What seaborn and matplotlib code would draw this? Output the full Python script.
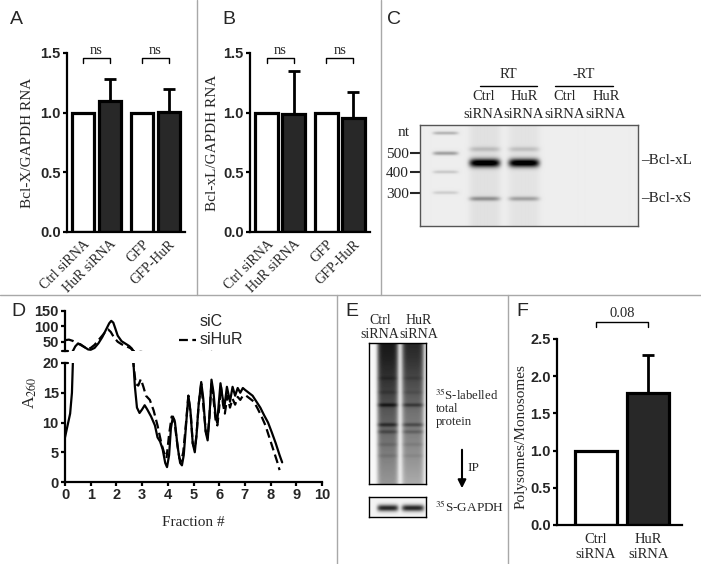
import numpy as np
import pandas as pd
import matplotlib
matplotlib.use('Agg')
import matplotlib.pyplot as plt
import seaborn as sns
from matplotlib.lines import Line2D
from matplotlib.patches import FancyArrowPatch
from matplotlib.ticker import FormatStrFormatter

sns.set_theme(style='ticks')
plt.rcParams['font.family'] = ['Liberation Sans', 'DejaVu Sans']
plt.rcParams['mathtext.fontset'] = 'stix'
SERIF = 'Liberation Serif'
DARK = '#282828'

# ---- data -------------------------------------------------------------
# panels A / B
ab_labels = ['Ctrl siRNA', 'HuR siRNA', 'GFP', 'GFP-HuR']
ab_group = ['siRNA', 'siRNA', 'GFP', 'GFP']
ab_cond = ['ctrl', 'treat', 'ctrl', 'treat']
a_vals = [1.0, 1.10, 1.0, 1.005]
a_err = [0, 0.18, 0, 0.19]
b_vals = [1.0, 0.99, 1.0, 0.955]
b_err = [0, 0.36, 0, 0.22]

# panel C gel (lanes: ladder, Ctrl RT, HuR RT, Ctrl -RT, HuR -RT)
c_lane_x = [0.117, 0.296, 0.475, 0.656, 0.84]
c_lane_w = [0.115, 0.14, 0.14, 0.14, 0.14]
c_band_lane = [0, 0, 0, 0, 1, 1, 1, 2, 2, 2]
c_band_pos = [0.08, 0.28, 0.465, 0.67, 0.24, 0.376, 0.73, 0.24, 0.376, 0.73]
c_band_int = [0.22, 0.3, 0.14, 0.12, 0.15, 1.0, 0.32, 0.14, 1.0, 0.26]
c_band_sd = [0.012, 0.014, 0.012, 0.012, 0.018, 0.03, 0.016, 0.018, 0.03, 0.016]
c_smear = [0.0, 0.05, 0.04, 0.0, 0.0]
c_marker_nt = ['500', '400', '300']
c_marker_pos = [0.28, 0.465, 0.67]

# panel D polysome profiles
siC_x = [0, 0.1, 0.2, 0.27, 0.32, 0.4, 0.5, 0.6, 0.75, 0.9, 1.0, 1.15, 1.3, 1.45,
         1.6, 1.72, 1.8, 1.88, 1.95, 2.05, 2.2, 2.35, 2.5, 2.6, 2.65, 2.72, 2.8,
         2.9, 3.0, 3.1, 3.2, 3.35, 3.5, 3.6, 3.7, 3.8, 3.9, 3.97, 4.05, 4.12, 4.2,
         4.28, 4.38, 4.48, 4.55, 4.62, 4.7, 4.8, 4.88, 4.97, 5.05, 5.12, 5.2, 5.3,
         5.38, 5.47, 5.55, 5.62, 5.7, 5.78, 5.86, 5.92, 5.98, 6.05, 6.12, 6.2, 6.3,
         6.42, 6.52, 6.62, 6.72, 6.82, 6.92, 7.0, 7.15, 7.3, 7.45, 7.6, 7.75, 7.9,
         8.05, 8.2, 8.35, 8.45]
siC_y = [7.5, 9.5, 11.5, 15, 22, 35, 44, 42, 33, 25, 24, 30, 45, 65,
         90, 110, 118, 112, 95, 70, 52, 44, 36, 28, 21, 16, 12.5,
         11.6, 12.2, 12.9, 12.2, 11, 9.5, 7.5, 6.8, 5.5, 3.2, 2.5, 4.5, 9, 11,
         10, 6, 3.2, 2.8, 4.5, 9, 14.5, 12, 6.5, 5, 8, 13, 16.8,
         14, 8.5, 7, 11, 17.2, 15, 11, 10, 13, 16.6, 14.5, 12.5, 16,
         13.5, 16, 14.5, 15.8, 15, 15.8, 15.5, 15, 14.5, 13.5, 12.5, 11.2, 10,
         8.3, 6.5, 4.5, 3.3]
siHuR_x = [0, 0.15, 0.3, 0.45, 0.6, 0.75, 0.88, 1.0, 1.15, 1.3, 1.45, 1.6, 1.68,
           1.78, 1.9, 2.05, 2.2, 2.4, 2.55, 2.66, 2.75, 2.85, 2.95, 3.05, 3.15,
           3.3, 3.45, 3.6, 3.75, 3.85, 3.95, 4.05, 4.15, 4.25, 4.35, 4.45, 4.52,
           4.6, 4.7, 4.8, 4.9, 4.97, 5.05, 5.12, 5.2, 5.3, 5.4, 5.48, 5.55, 5.62,
           5.7, 5.8, 5.87, 5.93, 6.0, 6.07, 6.15, 6.22, 6.32, 6.42, 6.52, 6.62,
           6.72, 6.82, 6.92, 7.05, 7.2, 7.35, 7.5, 7.65, 7.8, 7.95, 8.1, 8.25, 8.35]
siHuR_y = [55, 57, 53, 46, 40, 33, 27, 30, 40, 55, 70, 85, 90,
           82, 65, 50, 42, 35, 29, 20, 16.5, 16.2, 17.3, 16, 14.5,
           13.8, 12, 9.5, 6.5, 5, 4, 8, 11, 10.5, 7, 4, 3.5,
           5, 9.5, 14.5, 11, 6.5, 5.5, 8, 13, 16.5, 12, 8.5, 7.5, 11,
           16.8, 13, 10, 9.5, 12.5, 16, 13, 11.5, 14.5, 12.5, 14, 13,
           14.3, 13.8, 14.5, 14.5, 14, 13.5, 12.3, 11, 9.5, 7.5, 5.5, 3.5, 2]

# panel E gels
e_lane_x = [0.33, 0.77]
e_lane_w = [0.37, 0.39]
e_smear_pos = [0.0, 0.1, 0.3, 0.5, 0.7, 0.85, 1.0]
e_smear_ctrl = [0.88, 0.85, 0.75, 0.62, 0.52, 0.45, 0.38]
e_smear_hur = [0.82, 0.78, 0.66, 0.52, 0.44, 0.38, 0.3]
e_band_pos = [0.25, 0.35, 0.44, 0.58, 0.63, 0.72, 0.8]
e_band_int = [0.05, 0.05, 0.22, 0.22, 0.14, 0.06, 0.05]
e_ip_pos = [0.55]
e_ip_int = [0.8]

# panel F
f_labels = ['Ctrl\nsiRNA', 'HuR\nsiRNA']
f_vals = [1.0, 1.78]
f_err = [0, 0.5]

# ---- figure -------------------------------------------------------------
W, H = 701, 564
fig = plt.figure(figsize=(W / 100, H / 100), dpi=100)


def box(l, t, r, b):
    return fig.add_axes([l / W, 1 - b / H, (r - l) / W, (b - t) / H])


def ftext(x, y, s, **kw):
    kw.setdefault('ha', 'center')
    kw.setdefault('va', 'center')
    fig.text(x / W, 1 - y / H, s, **kw)


def style_axis(ax):
    sns.despine(ax=ax)
    for s in ['left', 'bottom']:
        ax.spines[s].set_linewidth(1.6)
        ax.spines[s].set_color('black')
    ax.tick_params(axis='y', direction='out', length=3, width=1.6, pad=1.5,
                   color='black')
    for t in ax.get_yticklabels():
        t.set_fontweight('bold')
        t.set_fontsize(10.5)


def bar_panel(ax, vals, errs, ylabel, lab_x):
    df = pd.DataFrame({'group': ab_group, 'cond': ab_cond, 'val': vals})
    sns.barplot(data=df, x='group', y='val', hue='cond', palette=['white', DARK],
                width=0.9, gap=0.17, edgecolor='black', linewidth=2.3,
                errorbar=None, legend=False, ax=ax)
    bars = sorted(ax.patches, key=lambda p: p.get_x())
    xc = [p.get_x() + p.get_width() / 2 for p in bars]
    for x, v, e in zip(xc, vals, errs):
        if e > 0:
            ax.errorbar(x, v, yerr=[[0], [e]], fmt='none', ecolor='black',
                        elinewidth=2, capsize=4, capthick=2)
    ax.set_ylim(0, 1.5)
    ax.set_yticks([0, 0.5, 1.0, 1.5])
    ax.yaxis.set_major_formatter(FormatStrFormatter('%.1f'))
    ax.set_xticks(xc)
    ax.set_xticklabels(ab_labels, rotation=45, ha='right', rotation_mode='anchor',
                       fontfamily=SERIF, fontsize=10)
    ax.tick_params(axis='x', length=0, pad=4)
    ax.set_xlabel('')
    ax.set_ylabel('')
    style_axis(ax)
    for i in (0, 2):
        x0, x1 = xc[i], xc[i + 1]
        ax.plot([x0, x0, x1, x1], [1.42, 1.46, 1.46, 1.42], color='black', lw=1,
                clip_on=False)
        ax.text((x0 + x1) / 2, 1.47, 'ns', ha='center', va='bottom',
                fontfamily=SERIF, fontsize=10.5)
    ftext(lab_x, 143, ylabel, rotation=90, fontfamily=SERIF, fontsize=11)


def gel(nx, ny, lane_x, lane_w, bands, smear_fn, bg):
    xs = (np.arange(nx) + 0.5) / nx
    ys = (np.arange(ny) + 0.5) / ny
    dark = np.zeros((ny, nx))
    for li, (cx, w) in enumerate(zip(lane_x, lane_w)):
        lane = np.exp(-np.abs((xs - cx) / (w / 2)) ** 6)
        prof = smear_fn(li, ys)
        for lane_i, pos, inten, sd in bands:
            if lane_i == li:
                prof = prof + inten * np.exp(-0.5 * ((ys - pos) / sd) ** 2)
        dark += np.outer(prof, lane)
    return np.clip(bg - dark, 0, 1)


# panel A and B
ax_a = box(67, 53, 185, 232)
bar_panel(ax_a, a_vals, a_err, 'Bcl-X/GAPDH RNA', 28)
ax_b = box(250, 53, 370, 232)
bar_panel(ax_b, b_vals, b_err, 'Bcl-xL/GAPDH RNA', 212)

# panel C
ax_c = box(420, 125, 638, 226)
c_bands = list(zip(c_band_lane, c_band_pos, c_band_int, c_band_sd))
img_c = gel(218, 101, c_lane_x, c_lane_w, c_bands,
            lambda li, ys: np.full_like(ys, c_smear[li]), 0.93)
ax_c.imshow(img_c, cmap='gray', vmin=0, vmax=1, extent=(0, 1, 1, 0), aspect='auto',
            interpolation='bilinear')
ax_c.set_xticks([])
ax_c.set_yticks(c_marker_pos)
ax_c.set_yticklabels(c_marker_nt, fontfamily=SERIF, fontsize=11)
ax_c.tick_params(axis='y', direction='out', length=7, width=1.5, pad=1)
for s in ax_c.spines.values():
    s.set_color('#555555')
    s.set_linewidth(1)
ftext(404, 133, 'nt', fontfamily=SERIF, fontsize=11)
ftext(641, 161, '\u2013Bcl-xL', ha='left', fontfamily=SERIF, fontsize=11)
ftext(641, 198, '\u2013Bcl-xS', ha='left', fontfamily=SERIF, fontsize=11)
ftext(508, 75, 'RT', fontfamily=SERIF, fontsize=10.5)
ftext(584, 75, '-RT', fontfamily=SERIF, fontsize=10.5)
fig.add_artist(Line2D([480 / W, 537 / W], [1 - 86 / H] * 2, color='black', lw=1))
fig.add_artist(Line2D([555 / W, 613 / W], [1 - 86 / H] * 2, color='black', lw=1))
for cx, top in zip([484, 524, 565, 606], ['Ctrl', 'HuR', 'Ctrl', 'HuR']):
    ftext(cx, 97, top, fontfamily=SERIF, fontsize=10.5)
    ftext(cx, 114, 'siRNA', fontfamily=SERIF, fontsize=10.5)

# panel D (broken y axis)
ax_up = box(65, 311, 322, 351)
ax_lo = box(65, 363, 322, 482)
for ax in (ax_up, ax_lo):
    sns.lineplot(x=siC_x, y=siC_y, sort=False, estimator=None, color='black',
                 lw=1.6, ax=ax)
    sns.lineplot(x=siHuR_x, y=siHuR_y, sort=False, estimator=None, color='black',
                 lw=1.6, linestyle=(0, (4, 2)), ax=ax)
    ax.set_xlim(0, 10)
ax_up.set_ylim(20, 150)
ax_up.set_yticks([50, 100, 150])
ax_up.set_xticks([])
style_axis(ax_up)
ax_up.spines['bottom'].set_visible(False)
ax_up.plot([-0.012, 0.012], [0, 0], transform=ax_up.transAxes, color='black',
           lw=1.6, clip_on=False)
ax_lo.set_ylim(0, 20)
ax_lo.set_yticks([0, 5, 10, 15, 20])
ax_lo.set_xticks(range(0, 11))
style_axis(ax_lo)
ax_lo.plot([0, 0.012], [1, 1], transform=ax_lo.transAxes, color='black',
           lw=1.6, clip_on=False)
ax_lo.tick_params(axis='x', direction='out', length=3, width=1.6, pad=1.5,
                  color='black')
for t in ax_lo.get_xticklabels():
    t.set_fontweight('bold')
    t.set_fontsize(10.5)
ax_lo.set_xlabel('Fraction #', fontfamily=SERIF, fontsize=11, labelpad=10)
ftext(30, 393, r'A$_{260}$', rotation=90, fontfamily=SERIF, fontsize=12.5)
ftext(200, 321, 'siC', ha='left', fontsize=11.5)
ftext(200, 340, 'siHuR', ha='left', fontsize=11.5)
fig.add_artist(Line2D([179 / W, 196 / W], [1 - 340 / H] * 2, color='black', lw=1.6,
                      linestyle=(0, (4, 2))))

# panel E
ax_e = box(369, 343, 426, 484)
e_bands = [(li, p, i * (0.85 if li else 1.0), 0.01)
           for li in (0, 1) for p, i in zip(e_band_pos, e_band_int)]
smears = [e_smear_ctrl, e_smear_hur]
img_e = gel(57, 141, e_lane_x, e_lane_w, e_bands,
            lambda li, ys: np.interp(ys, e_smear_pos, smears[li]), 0.97)
ax_e.imshow(img_e, cmap='gray', vmin=0, vmax=1, extent=(0, 1, 1, 0), aspect='auto',
            interpolation='bilinear')
ax_e2 = box(369, 497, 426, 517)
ip_bands = [(li, p, i, 0.12) for li in (0, 1) for p, i in zip(e_ip_pos, e_ip_int)]
img_ip = gel(57, 20, e_lane_x, e_lane_w, ip_bands,
             lambda li, ys: np.zeros_like(ys), 0.95)
ax_e2.imshow(img_ip, cmap='gray', vmin=0, vmax=1, extent=(0, 1, 1, 0), aspect='auto',
             interpolation='bilinear')
for ax in (ax_e, ax_e2):
    ax.set_xticks([])
    ax.set_yticks([])
    for s in ax.spines.values():
        s.set_color('black')
        s.set_linewidth(1)
for cx, top in zip([380, 419], ['Ctrl', 'HuR']):
    ftext(cx, 320, top, fontfamily=SERIF, fontsize=10)
    ftext(cx, 335, 'siRNA', fontfamily=SERIF, fontsize=10)
ftext(435, 395, r'$^{35}$S-labelled', ha='left', fontfamily=SERIF, fontsize=9.2)
ftext(436, 409, 'total', ha='left', fontfamily=SERIF, fontsize=9.2)
ftext(436, 422, 'protein', ha='left', fontfamily=SERIF, fontsize=9.2)
ftext(467, 468, 'IP', ha='left', fontfamily=SERIF, fontsize=9.5)
ftext(435, 507, r'$^{35}$S-GAPDH', ha='left', fontfamily=SERIF, fontsize=9.5)
fig.add_artist(FancyArrowPatch((462 / W, 1 - 447 / H), (462 / W, 1 - 491 / H),
                               transform=fig.transFigure, arrowstyle='-|>',
                               mutation_scale=12, lw=1.5, color='black'))

# panel F
ax_f = box(557, 339, 682, 525)
sns.barplot(x=f_labels, y=f_vals, hue=f_labels, palette=['white', DARK], width=0.8,
            edgecolor='black', linewidth=2.3, legend=False, ax=ax_f)
fbars = sorted(ax_f.patches, key=lambda p: p.get_x())
fx = [p.get_x() + p.get_width() / 2 for p in fbars]
for x, v, e in zip(fx, f_vals, f_err):
    if e > 0:
        ax_f.errorbar(x, v, yerr=[[0], [e]], fmt='none', ecolor='black',
                      elinewidth=2, capsize=4, capthick=2)
ax_f.set_xlim(-0.75, 1.65)
ax_f.set_ylim(0, 2.5)
ax_f.set_yticks([0, 0.5, 1.0, 1.5, 2.0, 2.5])
ax_f.yaxis.set_major_formatter(FormatStrFormatter('%.1f'))
ax_f.set_xticks(fx)
ax_f.set_xticklabels(f_labels, fontfamily=SERIF, fontsize=10.5)
ax_f.tick_params(axis='x', length=0, pad=6)
style_axis(ax_f)
ax_f.plot([fx[0], fx[0], fx[1], fx[1]], [2.66, 2.73, 2.73, 2.66], color='black',
          lw=1, clip_on=False)
ax_f.text(sum(fx) / 2, 2.75, '0.08', ha='center', va='bottom', fontfamily=SERIF,
          fontsize=10.5)
ftext(521, 437, 'Polysomes/Monosomes', rotation=90, fontfamily=SERIF, fontsize=11)

# panel letters and separators
for x, y, s in [(16, 19, 'A'), (229, 19, 'B'), (394, 19, 'C'),
                (18, 311, 'D'), (352, 311, 'E'), (522, 311, 'F')]:
    ftext(x, y, s, fontsize=14)
sep = '#a8a8a8'
for (x0, y0, x1, y1) in [(197, 0, 197, 295), (381, 0, 381, 295), (0, 295, 701, 295),
                         (337, 295, 337, 564), (508, 295, 508, 564)]:
    fig.add_artist(Line2D([x0 / W, x1 / W], [1 - y0 / H, 1 - y1 / H], color=sep, lw=1))

fig.savefig('out.png', dpi=100)
